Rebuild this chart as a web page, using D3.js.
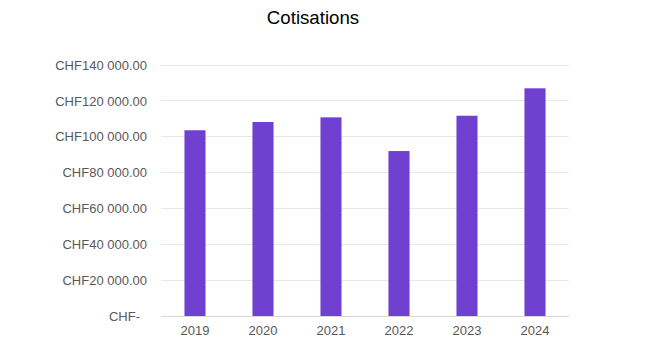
<!DOCTYPE html>
<html><head><meta charset="utf-8">
<script src="https://cdn.jsdelivr.net/npm/d3@7"></script>
<style>body{margin:0;background:#fff;}svg{display:block;font-family:"Liberation Sans",Arial,sans-serif;}</style>
</head><body>
<svg id="c" width="655" height="357"></svg>
<script>
const title = "Cotisations";
const years = ["2019","2020","2021","2022","2023","2024"];
const values = [103600, 108200, 110800, 92000, 111700, 127000];
const yTicks = [0, 20000, 40000, 60000, 80000, 100000, 120000, 140000];

const svg = d3.select("#c");
const m = {left:161, right:569, top:65, bottom:316};
const x = d3.scaleBand().domain(years).range([m.left, m.right]).paddingInner(0.69).paddingOuter(0.345);
const y = d3.scaleLinear().domain([0,140000]).range([m.bottom, m.top]);

const fmt = v => v === 0 ? "CHF-" : "CHF" + d3.format(",.2f")(v).replace(/,/g, " ");

// gridlines
svg.append("g").selectAll("line").data(yTicks).join("line")
  .attr("x1", m.left).attr("x2", m.right)
  .attr("y1", d=>y(d)).attr("y2", d=>y(d))
  .attr("stroke", d => d===0 ? "#d9d9d9" : "#e8e8e8").attr("stroke-width",1)
  .attr("shape-rendering","crispEdges");

// y axis labels
const ya = svg.append("g").attr("transform", `translate(${m.left-14},0)`)
  .call(d3.axisLeft(y).tickValues(yTicks).tickFormat(fmt).tickSize(0).tickPadding(0));
ya.select(".domain").remove();
ya.selectAll("text").attr("fill","#595959").attr("font-size","13px")
  .attr("font-family","'Liberation Sans',Arial,sans-serif")
  .attr("x", d => d===0 ? -7 : 0);

// bars
svg.append("g").selectAll("rect").data(values).join("rect")
  .attr("x", (d,i)=>x(years[i])).attr("width", x.bandwidth())
  .attr("y", d=>y(d)).attr("height", d=>y(0)-y(d))
  .attr("fill","#7040d1");

// x axis
const xa = svg.append("g").attr("transform", `translate(0,${m.bottom})`)
  .call(d3.axisBottom(x).tickSize(0).tickPadding(10));
xa.select(".domain").remove();
xa.selectAll("text").attr("fill","#595959").attr("font-size","13px")
  .attr("font-family","'Liberation Sans',Arial,sans-serif");

// title
svg.append("text").attr("x", 313).attr("y", 24).attr("text-anchor","middle")
  .attr("font-size","18.67px").attr("fill","#000").text(title);
</script>
</body></html>
